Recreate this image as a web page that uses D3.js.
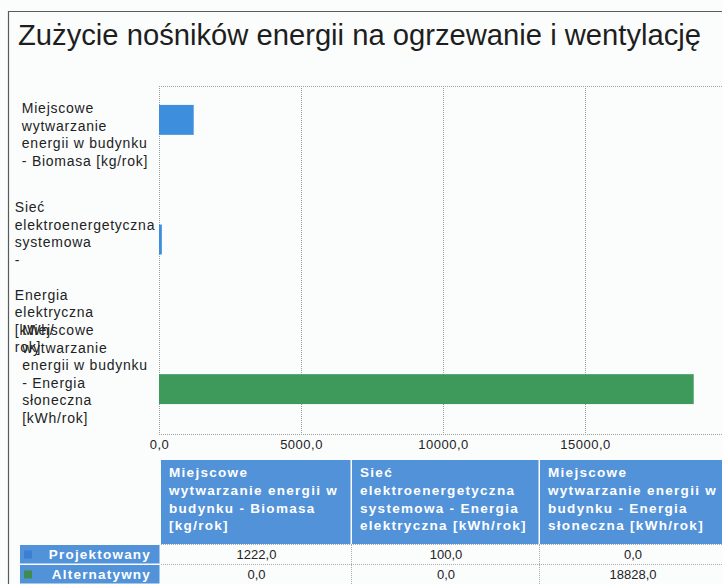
<!DOCTYPE html>
<html><head><meta charset="utf-8">
<script src="https://cdn.jsdelivr.net/npm/d3@7"></script>
<style>
html,body{margin:0;padding:0;background:#fbfdfd;}
svg{display:block;font-family:"Liberation Sans",Arial,sans-serif;}
</style></head>
<body>
<script>
// ---- data ----
const title = "Zużycie nośników energii na ogrzewanie i wentylację";
const categories = [
  "Miejscowe wytwarzanie energii w budynku - Biomasa [kg/rok]",
  "Sieć elektroenergetyczna systemowa - Energia elektryczna [kWh/rok]",
  "Miejscowe wytwarzanie energii w budynku - Energia słoneczna [kWh/rok]"
];
const axisLabelLines = [
  ["Miejscowe", "wytwarzanie", "energii w budynku", "- Biomasa [kg/rok]"],
  ["Sieć", "elektroenergetyczna", "systemowa", "-", "", "Energia", "elektryczna", "[kWh/", "rok]"],
  ["Miejscowe", "wytwarzanie", "energii w budynku", "- Energia", "słoneczna", "[kWh/rok]"]
];
const tableHeaderLines = [
  ["Miejscowe", "wytwarzanie energii w", "budynku - Biomasa", "[kg/rok]"],
  ["Sieć", "elektroenergetyczna", "systemowa - Energia", "elektryczna [kWh/rok]"],
  ["Miejscowe", "wytwarzanie energii w", "budynku - Energia", "słoneczna [kWh/rok]"]
];
const seriesNames = ["Projektowany", "Alternatywny"];
const projektowany = [1222.0, 100.0, 0.0];
const alternatywny = [0.0, 0.0, 18828.0];
const xTicks = [0, 5000, 10000, 15000, 20000];
const seriesColors = ["#3d8edc", "#3d9a5a"];
const markerColors = ["#3a7fd2", "#3e8c50"];

const seriesValues = [projektowany, alternatywny];
const fmt = v => d3.format(".1f")(v).replace(".", ",");

// ---- layout ----
const W = 722, H = 584;
const svg = d3.select("body").append("svg").attr("width", W).attr("height", H);
svg.append("rect").attr("width", W).attr("height", H).attr("fill", "#fbfdfd");

// outer frame
svg.append("path").attr("d", "M8.5,584 V11.5 H722").attr("fill", "none").attr("stroke", "#5a5a5a").attr("stroke-width", 1.2);

svg.append("text").attr("x", 18).attr("y", 45).attr("font-size", 29.2).attr("fill", "#1e1e1e").text(title);

const plotTop = 86, plotBottom = 434;
const x = d3.scaleLinear().domain([0, 20000]).range([159, 727]);
const y = d3.scaleBand().domain(categories).range([75, 434]).paddingInner(0.5).paddingOuter(0.25);
const ySub = d3.scaleBand().domain(seriesNames).range([0, y.bandwidth()]);

// grid
const grid = svg.append("g");
grid.selectAll("line.v").data(xTicks).join("line")
  .attr("x1", d => x(d) + 0.5).attr("x2", d => x(d) + 0.5)
  .attr("y1", plotTop).attr("y2", plotBottom)
  .attr("stroke", "#9a9a9a").attr("stroke-dasharray", "1,1");
grid.append("line").attr("x1", x(0)).attr("x2", W).attr("y1", plotTop + 0.5).attr("y2", plotTop + 0.5)
  .attr("stroke", "#a0a0a0").attr("stroke-dasharray", "1,1");
grid.append("line").attr("x1", x(0)).attr("x2", W).attr("y1", plotBottom + 0.5).attr("y2", plotBottom + 0.5)
  .attr("stroke", "#a0a0a0").attr("stroke-dasharray", "1,1");

// x axis tick labels
const xAxis = d3.axisBottom(x).tickValues(xTicks.slice(0, 4)).tickFormat(fmt).tickSize(0).tickPadding(0);
const gx = svg.append("g").attr("transform", `translate(0,${plotBottom + 3})`).call(xAxis);
gx.select(".domain").remove();
gx.selectAll("text").attr("font-size", 13).attr("letter-spacing", 0.5).attr("fill", "#222")
  .attr("font-family", "Liberation Sans, Arial, sans-serif").attr("dy", "0.95em");

// bars
const groups = svg.append("g").selectAll("g").data(categories).join("g")
  .attr("transform", d => `translate(0,${y(d)})`);
groups.selectAll("rect").data((d, i) => seriesNames.map((s, j) => ({ s, j, v: seriesValues[j][i] })))
  .join("rect")
  .attr("x", x(0)).attr("y", d => ySub(d.s))
  .attr("width", d => x(d.v) - x(0)).attr("height", ySub.bandwidth())
  .attr("fill", d => seriesColors[d.j]);

// category labels (text blocks centred in the label area, lines left-aligned)
const lh = 17.5;
const step = y.step();
const labelCenterX = 85;
const labG = svg.append("g");
categories.forEach((c, i) => {
  const lines = axisLabelLines[i];
  const center = y(c) + y.bandwidth() / 2;
  const blockH = lines.length * lh;
  let first;
  if (blockH > step) first = y(c) - (step - y.bandwidth()) / 2 + lh / 2 + 4;
  else first = center - (lines.length - 1) * lh / 2;
  const t = labG.append("text").attr("font-size", 14).attr("letter-spacing", 0.75).attr("fill", "#222");
  lines.forEach((ln, k) => {
    t.append("tspan").attr("x", 0).attr("y", first + k * lh).attr("dy", "0.35em").text(ln);
  });
  const wmax = d3.max(t.selectAll("tspan").nodes(), n => n.getComputedTextLength());
  t.attr("transform", `translate(${labelCenterX - wmax / 2},0)`);
});

// ---- data table ----
const colX = [161, 352, 540, 726];
const headTop = 460, headBottom = 544;
const rowTops = [545, 565, 585];
const headerBlue = "#5192d8";
const tbl = svg.append("g");
tableHeaderLines.forEach((lines, i) => {
  tbl.append("rect").attr("x", colX[i]).attr("y", headTop).attr("width", colX[i + 1] - colX[i] - 1.5)
    .attr("height", headBottom - headTop).attr("fill", headerBlue);
  const t = tbl.append("text").attr("font-size", 13.5).attr("font-weight", "bold").attr("letter-spacing", 1.3).attr("fill", "#fff");
  lines.forEach((ln, k) => {
    t.append("tspan").attr("x", colX[i] + 8).attr("y", headTop + 12 + k * 17.9).attr("dy", "0.35em").text(ln);
  });
});
seriesNames.forEach((s, r) => {
  const y0 = rowTops[r], y1 = rowTops[r + 1];
  tbl.append("rect").attr("x", 20).attr("y", y0).attr("width", 139.5).attr("height", y1 - y0 - 1.5).attr("fill", headerBlue);
  tbl.append("rect").attr("x", 24).attr("y", (y0 + y1) / 2 - 4.5).attr("width", 8).attr("height", 8).attr("fill", markerColors[r]);
  tbl.append("text").attr("x", 151).attr("y", (y0 + y1) / 2 - 0.5).attr("dy", "0.35em").attr("text-anchor", "end")
    .attr("font-size", 13.5).attr("font-weight", "bold").attr("letter-spacing", 1.2).attr("fill", "#fff").text(s);
  categories.forEach((c, i) => {
    tbl.append("text").attr("x", (colX[i] + colX[i + 1]) / 2).attr("y", (y0 + y1) / 2 - 0.5).attr("dy", "0.35em")
      .attr("text-anchor", "middle").attr("font-size", 13).attr("fill", "#222").text(fmt(seriesValues[r][i]));
  });
});
// table grid lines
[rowTops[0] - 0.5, rowTops[1] - 0.5, rowTops[2] - 0.5].forEach(yy => {
  tbl.append("line").attr("x1", colX[0]).attr("x2", W).attr("y1", yy).attr("y2", yy)
    .attr("stroke", "#aaa").attr("stroke-dasharray", "1,1");
});
colX.slice(1, 3).forEach(xx => {
  tbl.append("line").attr("x1", xx - 0.5).attr("x2", xx - 0.5).attr("y1", rowTops[0]).attr("y2", H)
    .attr("stroke", "#aaa").attr("stroke-dasharray", "1,1");
});
</script>
</body></html>
